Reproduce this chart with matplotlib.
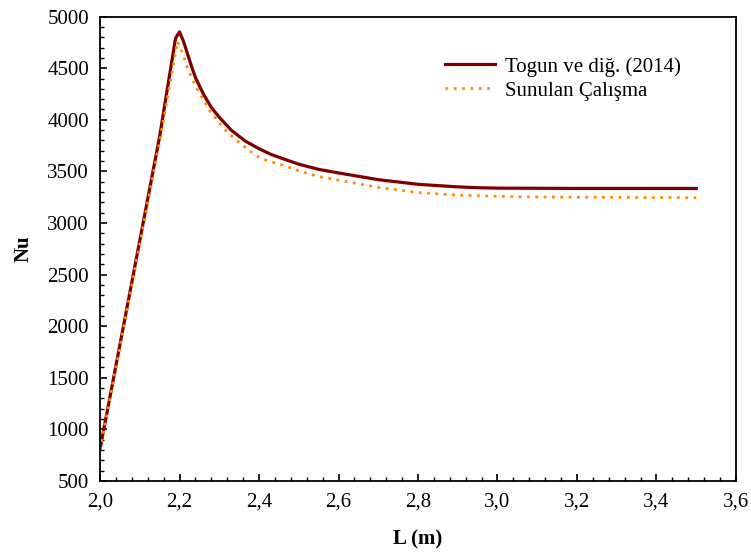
import matplotlib
matplotlib.use("Agg")
import matplotlib.pyplot as plt
from matplotlib.ticker import MultipleLocator, FuncFormatter

# Data
L_togun = [2.0, 2.05, 2.1, 2.15, 2.19, 2.2, 2.21, 2.22, 2.23, 2.24, 2.26, 2.28, 2.30,
           2.33, 2.365, 2.40, 2.43, 2.47, 2.5, 2.55, 2.6, 2.7, 2.8, 2.9, 2.95, 3.0, 3.2, 3.5]
Nu_togun = [810, 1820, 2830, 3840, 4790, 4852, 4760, 4640, 4520, 4410, 4250, 4120, 4025,
            3900, 3795, 3720, 3665, 3610, 3570, 3520, 3485, 3420, 3375, 3350, 3342, 3338, 3335, 3335]

L_sunulan = [2.0, 2.05, 2.1, 2.15, 2.195, 2.21, 2.22, 2.24, 2.25, 2.277, 2.30, 2.322,
             2.35, 2.394, 2.42, 2.453, 2.5, 2.545, 2.6, 2.7, 2.8, 2.9, 3.0, 3.1, 3.2, 3.5]
Nu_sunulan = [800, 1800, 2800, 3790, 4760, 4620, 4500, 4330, 4260, 4084, 3970, 3874,
              3780, 3648, 3605, 3568, 3505, 3455, 3415, 3345, 3295, 3270, 3258, 3252, 3250, 3245]

labels = ["Togun ve diğ. (2014)", "Sunulan Çalışma"]

plt.rcParams['font.family'] = ['Liberation Serif', 'DejaVu Serif']

fig = plt.figure(figsize=(7.51, 5.54), dpi=100)
ax = fig.add_axes([0.1332, 0.1318, 0.9800 - 0.1332, 0.970 - 0.1318])

ax.plot(L_togun, Nu_togun, color='#800000', lw=2.3, label=labels[0])
ax.plot(L_sunulan, Nu_sunulan, color='#FF8C00', lw=2.0, linestyle=(0, (1, 2)), label=labels[1])

ax.set_xlim(2.0, 3.6)
ax.set_ylim(500, 5000)
ax.xaxis.set_major_locator(MultipleLocator(0.2))
ax.xaxis.set_minor_locator(MultipleLocator(0.04))
ax.yaxis.set_major_locator(MultipleLocator(500))
ax.yaxis.set_minor_locator(MultipleLocator(100))
ax.xaxis.set_major_formatter(FuncFormatter(lambda v, p: f"{v:.1f}".replace('.', ',')))
ax.yaxis.set_major_formatter(FuncFormatter(lambda v, p: f"{int(round(v))}"))

ax.tick_params(which='major', direction='in', length=5, width=1.2, labelsize=15, pad=8)
ax.tick_params(which='minor', direction='in', length=3, width=1.0)
ax.tick_params(top=False, right=False, which='both')
for s in ax.spines.values():
    s.set_linewidth(1.3)

ax.set_xlabel("L (m)", fontsize=15, fontweight='bold', labelpad=13)
ax.set_ylabel("Nu", fontsize=15, fontweight='bold', labelpad=10)

leg = ax.legend(loc='upper left', bbox_to_anchor=(0.5425, 0.913), frameon=False, fontsize=15,
                handlelength=2.4, handletextpad=0.5, labelspacing=0.2,
                borderaxespad=0, borderpad=0)

fig.savefig("out.png", dpi=100)
